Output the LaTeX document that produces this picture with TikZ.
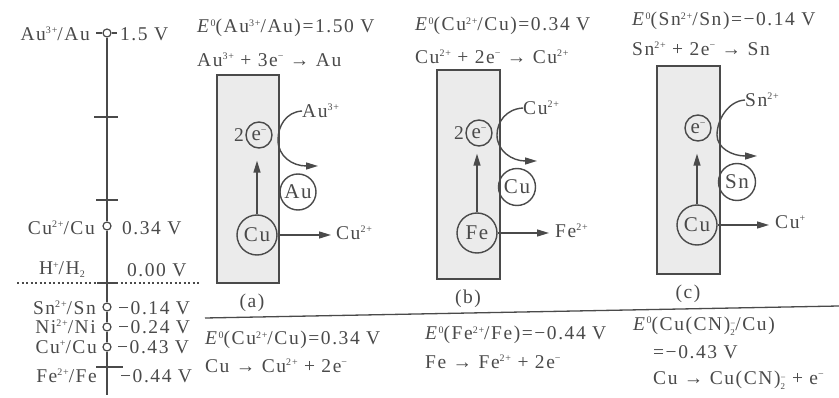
\documentclass[tikz,border=0pt]{standalone}
\usepackage{fontspec}
\setmainfont{Liberation Serif}[LetterSpace=8]
\usetikzlibrary{arrows.meta}
\definecolor{ink}{HTML}{4A4A4A}
\definecolor{boxfill}{HTML}{EBEBEB}
\newcommand\mysup[1]{\raisebox{0.72ex}{\fontsize{10}{10}\selectfont #1}}
\newcommand\mysub[1]{\raisebox{-0.35ex}{\fontsize{10}{10}\selectfont #1}}
\newcommand\mystack[2]{\raisebox{-0.55ex}{\fontsize{9}{9}\selectfont\shortstack[l]{#1\\#2}}}
\newcommand\Eo{\textit{E}\mysup{0}}
\begin{document}
\begin{tikzpicture}[x=1pt,y=-1pt,
  txt/.style={font=\fontsize{19.5}{22}\selectfont, text=ink, inner sep=0pt},
  lt/.style={txt, anchor=west},
  rt/.style={txt, anchor=east},
  ball/.style={circle, draw=ink, line width=1.4pt, inner sep=0pt, minimum size=#1, font=\fontsize{21}{23}\selectfont, text=ink},
  dot/.style={circle, draw=ink, line width=1.2pt, fill=white, inner sep=0pt, minimum size=8pt},
  plate/.style={draw=ink, fill=boxfill, line width=1.6pt},
  arr/.style={draw=ink, line width=1.4pt, -{Triangle[length=12pt,width=7pt]}},
  thin/.style={draw=ink, line width=1.3pt}
]
\useasboundingbox (0,0) rectangle (839,398);

% ---------- potential scale ----------
\node[dot] (d1) at (107,33) {};
\node[dot] (d2) at (107,226) {};
\node[dot] (d3) at (107,307) {};
\node[dot] (d4) at (107,327) {};
\node[dot] (d5) at (107,347) {};
\coordinate (bot) at (107,395);
\draw[thin] (d1) -- (d2) -- (d3) -- (d4) -- (d5) -- (bot);
\draw[thin] (96,33) -- (d1.west) (d1.east) -- (117,33);
\draw[thin] (94,117) -- (118,117);
\draw[thin] (96,200) -- (118,200);
\draw[thin] (97,283) -- (118,283);
\draw[thin] (96,367) -- (123,367);
\draw[draw=ink, line width=1.1pt, dash pattern=on 2pt off 2.5pt] (17,283) -- (200,283);

\node[rt] (l1) at (90,34) {Au\mysup{3+}/Au};
\node[lt] (v1) at (120,34) {1.5 V};
\node[rt] (l2) at (95,228) {Cu\mysup{2+}/Cu};
\node[lt] (v2) at (122,228) {0.34 V};
\node[rt] (l3) at (85,270) {H\mysup{+}/H\mysub{2}};
\node[lt] (v3) at (127,270) {0.00 V};
\node[rt] (l4) at (96,308) {Sn\mysup{2+}/Sn};
\node[lt] (v4) at (118,308) {−0.14 V};
\node[rt] (l5) at (96,327) {Ni\mysup{2+}/Ni};
\node[lt] (v5) at (118,327) {−0.24 V};
\node[rt] (l6) at (97,347) {Cu\mysup{+}/Cu};
\node[lt] (v6) at (117,347) {−0.43 V};
\node[rt] (l7) at (97,376) {Fe\mysup{2+}/Fe};
\node[lt] (v7) at (120,376) {−0.44 V};

% ---------- separator ----------
\draw[draw=ink, line width=1.3pt] (205,318) -- (839,306);

% ---------- panel (a) ----------
\node[lt] (ta1) at (197,28) {\Eo(Au\mysup{3+}/Au)=1.50 V};
\node[lt] (ta2) at (197,60) {Au\mysup{3+} + 3e\mysup{−} → Au};
\draw[plate] (217,75) rectangle (279,283);
\node[ball=26pt] (ea) at (259,135) {e\mysup{−}};
\node[txt] (na) at (239,135) {2};
\node[ball=36pt] (aua) at (298,192) {Au};
\node[ball=40pt] (ca) at (257,235) {Cu};
\node[lt] (ia) at (302,111) {Au\mysup{3+}};
\coordinate (tipa) at (318,166);
\coordinate (ra) at (331,235);
\node[lt] (oa) at (336,233) {Cu\mysup{2+}};
\draw[arr, shorten >=12pt] (ca.north) -- (ca.north |- ea.south);
\draw[arr] (ca.east) -- (ra);
\draw[arr] (ia.west) .. controls (286,112) and (278,126) .. (278,140) .. controls (278,156) and (292,166) .. (tipa);
\node[txt] (capa) at (252,303) {(a)};
\node[lt] (ba1) at (205,340) {\Eo(Cu\mysup{2+}/Cu)=0.34 V};
\node[lt] (ba2) at (205,366) {Cu → Cu\mysup{2+} + 2e\mysup{−}};

% ---------- panel (b) ----------
\node[lt] (tb1) at (415,26) {\Eo(Cu\mysup{2+}/Cu)=0.34 V};
\node[lt] (tb2) at (415,57) {Cu\mysup{2+} + 2e\mysup{−} → Cu\mysup{2+}};
\draw[plate] (437,70) rectangle (500,279);
\node[ball=26pt] (eb) at (479,133) {e\mysup{−}};
\node[txt] (nb) at (459,133) {2};
\node[ball=37pt] (cub) at (517,187) {Cu};
\node[ball=40pt] (feb) at (477,233) {Fe};
\node[lt] (ib) at (523,108) {Cu\mysup{2+}};
\coordinate (tipb) at (537,161);
\coordinate (rb) at (549,233);
\node[lt] (ob) at (555,231) {Fe\mysup{2+}};
\draw[arr, shorten >=7pt] (feb.north) -- (feb.north |- eb.south);
\draw[arr] (feb.east) -- (rb);
\draw[arr] (ib.west) .. controls (506,109) and (497,122) .. (497,135) .. controls (497,151) and (512,161) .. (tipb);
\node[txt] (capb) at (468,299) {(b)};
\node[lt] (bb1) at (425,335) {\Eo(Fe\mysup{2+}/Fe)=−0.44 V};
\node[lt] (bb2) at (425,362) {Fe → Fe\mysup{2+} + 2e\mysup{−}};

% ---------- panel (c) ----------
\node[lt] (tc1) at (632,21) {\Eo(Sn\mysup{2+}/Sn)=−0.14 V};
\node[lt] (tc2) at (632,49) {Sn\mysup{2+} + 2e\mysup{−} → Sn};
\draw[plate] (657,66) rectangle (720,274);
\node[ball=26pt] (ec) at (698,128) {e\mysup{−}};
\node[ball=37pt] (snc) at (737,182) {Sn};
\node[ball=40pt] (cc) at (697,225) {Cu};
\node[lt] (ic) at (745,100) {Sn\mysup{2+}};
\coordinate (tipc) at (757,156);
\coordinate (rc) at (769,225);
\node[lt] (oc) at (775,222) {Cu\mysup{+}};
\draw[arr, shorten >=12pt] (cc.north) -- (cc.north |- ec.south);
\draw[arr] (cc.east) -- (rc);
\draw[arr] (ic.west) .. controls (728,101) and (717,120) .. (717,135) .. controls (717,148) and (732,156) .. (tipc);
\node[txt] (capc) at (688,294) {(c)};
\node[lt] (bc1) at (633,326) {\Eo(Cu(CN)\mystack{−}{2}/Cu)};
\node[lt] (bc2) at (653,352) {=−0.43 V};
\node[lt] (bc3) at (653,380) {Cu → Cu(CN)\mystack{−}{2} + e\mysup{−}};
\end{tikzpicture}
\end{document}
